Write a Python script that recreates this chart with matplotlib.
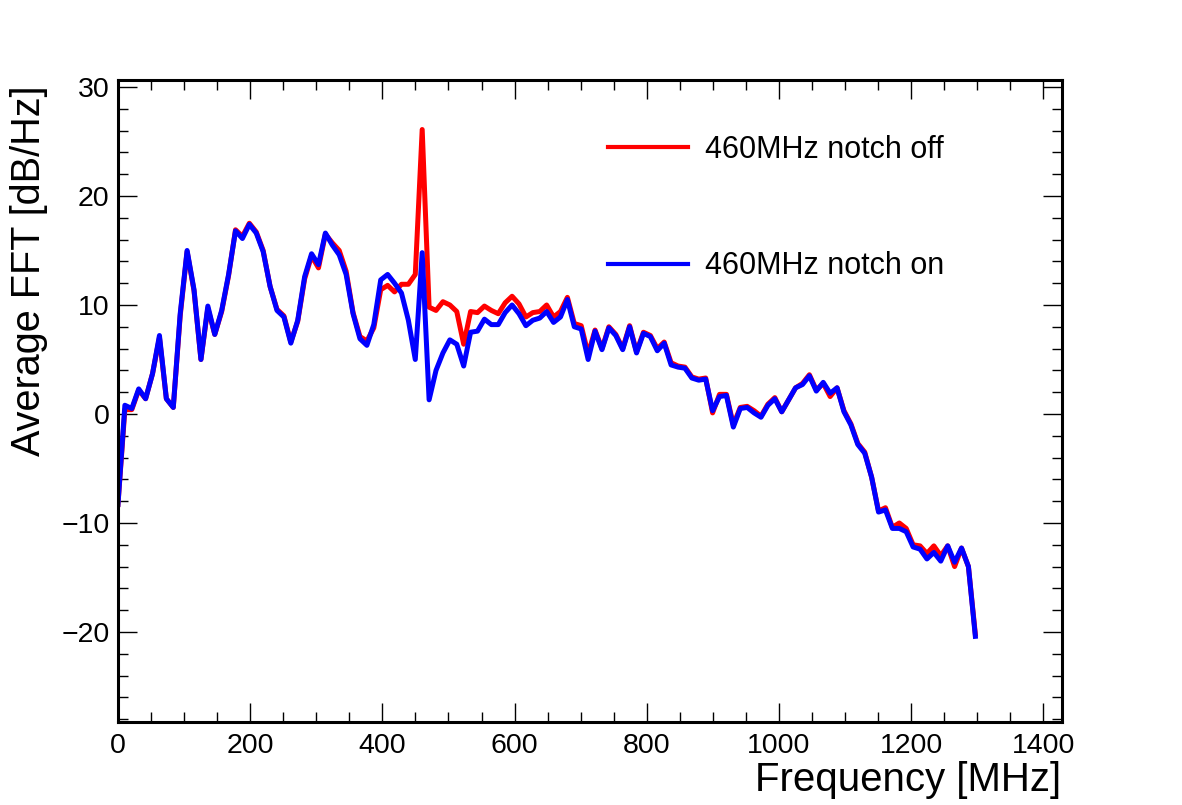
import numpy as np
import matplotlib
matplotlib.use('Agg')
import matplotlib.pyplot as plt
from matplotlib.ticker import MultipleLocator

plt.rcParams['font.family'] = ['Liberation Sans', 'DejaVu Sans']

# frequency bin width in MHz (bins start at 0)
bin_width = 10.46

notch_off = [-8.3, 0.4, 0.4, 2.2, 1.4, 3.7, 7.0, 1.4, 0.6, 9.0,
             14.9, 11.3, 5.0, 9.7, 7.3, 9.4, 12.7, 16.9, 16.3, 17.5,
             16.7, 15.0, 11.7, 9.6, 9.0, 6.6, 8.5, 12.4, 14.5, 13.4,
             16.5, 15.7, 15.0, 13.1, 9.3, 7.1, 6.7, 7.9, 11.4, 11.8,
             11.2, 11.9, 11.9, 12.8, 26.1, 9.8, 9.5, 10.3, 10.0, 9.4,
             6.4, 9.4, 9.3, 9.9, 9.5, 9.2, 10.2, 10.8, 10.1, 8.9,
             9.3, 9.4, 10.0, 8.9, 9.4, 10.7, 8.3, 8.1, 5.5, 7.7,
             6.0, 8.0, 7.3, 6.0, 8.1, 5.7, 7.5, 7.2, 6.0, 6.6,
             4.7, 4.4, 4.3, 3.4, 3.2, 3.3, 0.1, 1.8, 1.8, -1.0,
             0.6, 0.7, 0.3, -0.2, 0.9, 1.5, 0.2, 1.3, 2.4, 2.8,
             3.6, 2.2, 2.8, 1.6, 2.4, 0.3, -0.9, -2.7, -3.5, -5.8,
             -8.9, -8.6, -10.4, -10.0, -10.5, -12.0, -12.1, -12.8, -12.1, -13.0,
             -12.1, -14.0, -12.3, -14.0, -20.2]

notch_on = [-8.3, 0.8, 0.5, 2.3, 1.4, 3.7, 7.2, 1.4, 0.6, 9.2,
            15.0, 11.4, 5.0, 9.9, 7.3, 9.5, 12.8, 16.8, 16.1, 17.4,
            16.6, 14.9, 11.7, 9.5, 8.9, 6.5, 8.6, 12.6, 14.7, 13.7,
            16.6, 15.5, 14.6, 12.8, 9.2, 6.9, 6.3, 8.2, 12.3, 12.8,
            12.0, 11.1, 8.6, 5.0, 14.8, 1.3, 4.0, 5.6, 6.8, 6.4,
            4.4, 7.5, 7.6, 8.7, 8.2, 8.2, 9.3, 10.0, 9.2, 8.1,
            8.6, 8.8, 9.4, 8.4, 8.9, 10.5, 8.0, 7.8, 5.0, 7.6,
            5.9, 7.9, 7.2, 5.9, 8.0, 5.6, 7.4, 7.1, 5.8, 6.5,
            4.5, 4.3, 4.2, 3.3, 3.1, 3.2, 0.3, 1.6, 1.7, -1.2,
            0.5, 0.6, 0.1, -0.3, 0.8, 1.4, 0.2, 1.3, 2.4, 2.7,
            3.5, 2.1, 2.9, 1.9, 2.4, 0.2, -1.0, -2.8, -3.6, -5.8,
            -9.0, -8.8, -10.5, -10.5, -10.8, -12.2, -12.4, -13.3, -12.7, -13.5,
            -12.1, -13.6, -12.3, -14.0, -20.4]

freq = np.arange(len(notch_on)) * bin_width

fig = plt.figure(figsize=(11.82, 8.05), dpi=100)
ax = fig.add_axes([0.0998, 0.1031, 0.7986, 0.7975])

ax.plot(freq, notch_off, color='#ff0000', lw=3.6, label='460MHz notch off')
ax.plot(freq, notch_on, color='#0000ff', lw=3.6, label='460MHz notch on')

ax.set_xlim(0, 1428)
ax.set_ylim(-28.26, 30.64)

ax.xaxis.set_major_locator(MultipleLocator(200))
ax.xaxis.set_minor_locator(MultipleLocator(50))
ax.yaxis.set_major_locator(MultipleLocator(10))
ax.yaxis.set_minor_locator(MultipleLocator(2))

ax.tick_params(which='both', direction='in', top=True, right=True,
               width=1.0, labelsize=20.5)
ax.tick_params(which='major', length=14)
ax.tick_params(which='minor', length=7)
ax.tick_params(axis='x', pad=8)
ax.tick_params(axis='y', pad=6)
for s in ax.spines.values():
    s.set_linewidth(2.2)

fig.text(1061 / 1182, 1 - 791 / 805, 'Frequency [MHz]', fontsize=29,
         ha='right', va='baseline')
fig.text(48 / 1182, 1 - 85 / 805, 'Average FFT [dB/Hz]', fontsize=28.5,
         rotation=90, ha='right', va='top')

leg = ax.legend(loc='upper left', bbox_to_anchor=(608 / 1182, 1 - 135 / 805),
                bbox_transform=fig.transFigure, frameon=False, fontsize=22,
                handlelength=2.62, handletextpad=0.56, labelspacing=2.83,
                borderpad=0, borderaxespad=0)
for line in leg.get_lines():
    line.set_linewidth(3.0)

fig.savefig('out.png', dpi=100)
